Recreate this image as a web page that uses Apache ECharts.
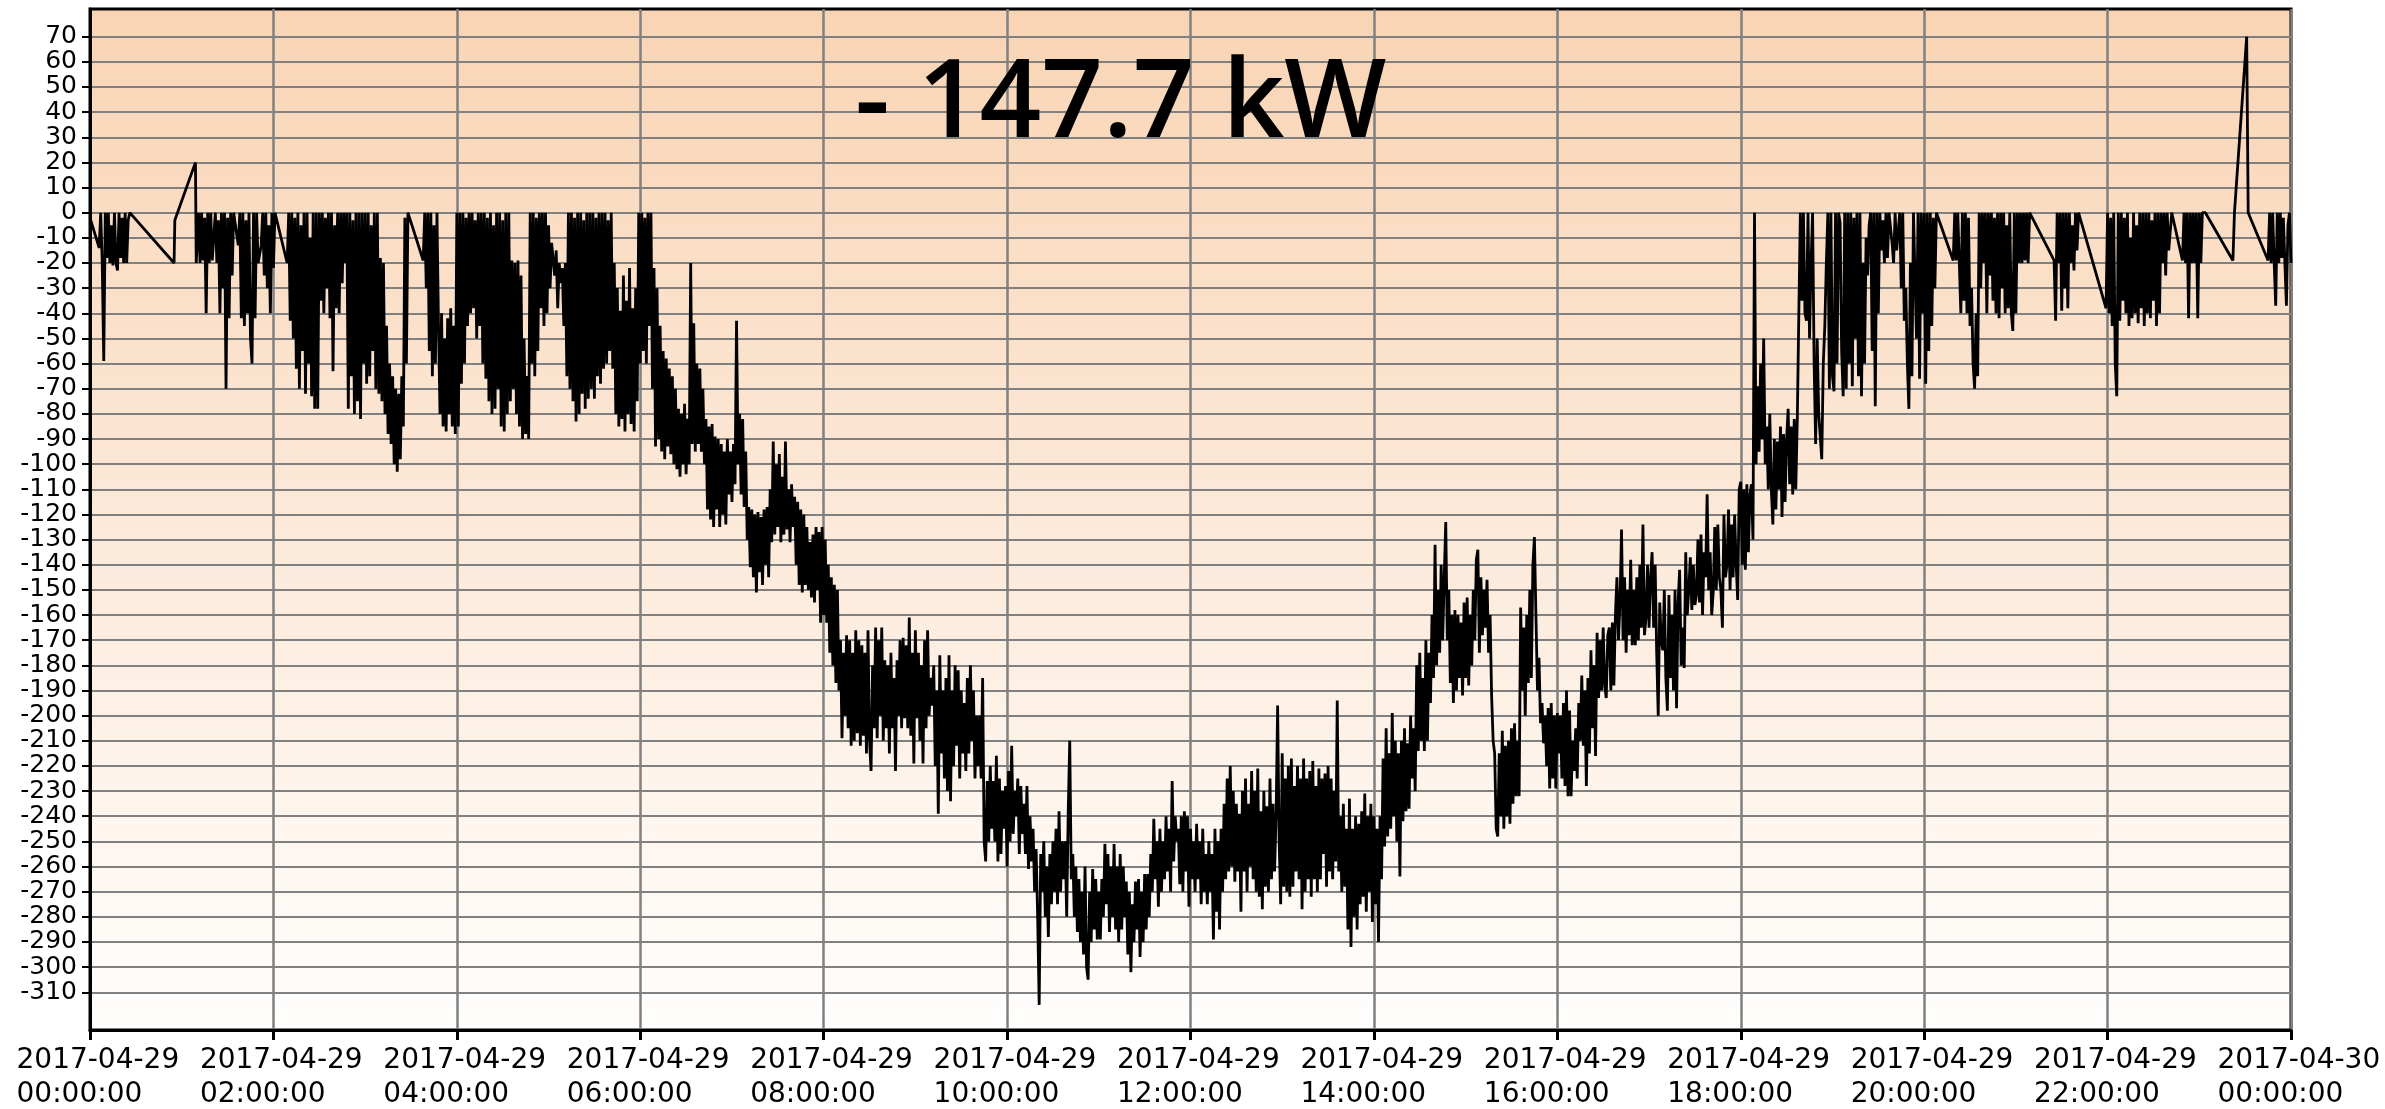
<!DOCTYPE html>
<html>
<head>
<meta charset="utf-8">
<title>kW</title>
<script src="https://cdn.jsdelivr.net/npm/echarts@6/dist/echarts.min.js"></script>
<style>
html,body{margin:0;padding:0;background:#fff;}
#chart{width:2385px;height:1109px;}
</style>
</head>
<body>
<div id="chart"></div>
<script>
// night readings as [minute of day, kW] (logger leaves gaps)
var night = [
[0,-2],[3,-8],[6,-14],[7,0],[8,-20],[9,-59],[10,0],[11,-18],[12,0],[13,-20],[14,-5],[15,-21],[16,0],[17,-20],[18,-23],[19,0],[20,-18],[21,-2],[22,-20],[23,0],[24,-20],[25,-3],[26,0],
[55,-20],[55.5,-3],[69,20],[69.5,-20],
[71,0],[72,-20],[73,0],[74,-19],[75,-2],[76,-40],[77,0],[78,-20],[79,0],[80,-19],
[82,0],[83,-20],[84,-3],[85,-40],[86,0],[87,-30],[88,0],[89,-70],[90,-2],[91,-42],[92,0],[93,-25],
[94,0],[97,-13],[98,0],[99,-42],[100,0],[101,-45],[102,-3],[103,-40],[104,0],[105,-50],[106,-60],[107,0],[108,-42],[109,0],[110,-20],[112,-13],[113,0],[114,-25],[115,0],[116,-30],[117,-5],[118,-40],[119,0],[120,-22],[121,0],
[129,-20],[130,0],
[131,-43],[132,0],[133,-50],[134,-2],[135,-62],[136,0],[137,-70],[138,-5],[139,-55],[140,0],[141,-72],[142,0],[143,-60],[144,-10],[145,-73],[146,0],[147,-78],
[148,0],[149,-78],[150,0],[151,-35],[152,0],[153,-40],[154,-2],[155,-30],[156,0],[157,-42],[158,0],[159,-63],[160,-5],[161,-38],[162,0],[163,-40],[164,0],[165,-28],[166,0],
[167,-20],[168,0],[169,-78],[170,0],[171,-65],[172,-3],[173,-80],[174,0],[175,-75],[176,0],[177,-82],
[178,0],[179,-60],[180,0],[181,-68],[182,0],[183,-65],[184,-5],[185,-55],[186,0],[187,-70],[188,0],[189,-72],[190,-18],[191,-75],[192,-20],[193,-80],
[194,-45],[195,-88],[196,-60],[197,-92],[198,-65],[199,-100],[200,-70],[201,-103],[202,-72],[203,-98],[204,-65],[205,-85],[206,-2],[207,-60],[208,0],
[218,-19],[219,0],
[220,-30],[221,0],[222,-55],[223,0],[224,-65],[225,-5],[226,-60],[227,0],[228,-45],[229,-80],[230,-40],[231,-85],[232,-50],[233,-87],[234,-42],[235,-80],[236,-38],[237,-85],[238,-45],[239,-88],
[240,0],[241,-85],[242,0],[243,-68],[244,0],[245,-60],[246,-2],[247,-45],[248,0],[249,-40],[250,0],[251,-38],[252,-3],[253,-50],[254,0],[255,-45],[256,0],[257,-60],[258,0],[259,-66],[260,-2],[261,-75],[262,0],[263,-80],[264,-5],[265,-78],[266,0],[267,-70],[268,0],[269,-85],[270,-3],[271,-87],[272,0],[273,-80],[274,0],[275,-75],
[276,-19],[277,-70],[278,-20],[279,-80],[280,-19],[281,-85],[282,-25],[283,-90],[284,-50],[285,-88],[286,-65],[287,-90],
[288,0],[289,-60],[290,0],[291,-65],[292,-2],[293,-55],[294,0],[295,-38],[296,0],[297,-45],[298,0],[299,-40],[300,-5],[301,-30],
[302,-12],[304,-25],[305,-15],[306,-38],[307,-20],[308,-28],[309,-22],[310,-45],[311,-20],[312,-65],
[313,0],[314,-70],[315,0],[316,-75],[317,-2],[318,-83],[319,0],[320,-80],[321,0],[322,-72],[323,-3],[324,-78],[325,0],[326,-74],[327,0],[328,-70],[329,0],[330,-74],[331,-2],[332,-65],[333,0],[334,-68],[335,0],[336,-62],[337,0],[338,-60],[339,-3],[340,-55],[341,0],[342,-62],
[343,-20],[344,-80],[345,-30],[346,-85],[347,-39],[348,-82],[349,-25],[350,-87],[351,-35],[352,-80],[353,-22],[354,-84],[355,-38],[356,-87],[357,-30],[358,-75],
[359,0],[360,-60],[361,0],[362,-55],[363,-2],[364,-60],[365,0],[366,-45],[367,0],[368,-70],[369,-22],[370,-93],[371,-30],[372,-90]
];

// daytime: one reading per minute from 06:13 to 18:36
var dayStart = 373;
var dayKw = [
-45,-95,-55,-98,-58,-93,-62,-96,-65,
-100,-70,-102,-78,-105,-80,-100,-76,-104,-82,
-100,-20,-92,-44,-95,-60,-92,-62,-95,-70,
-100,-82,-118,-85,-122,-84,-125,-89,-118,-90,
-125,-92,-120,-95,-124,-90,-112,-95,-115,-92,
-108,-43,-100,-80,-112,-82,-117,-95,-130,-117,
-141,-118,-145,-120,-151,-119,-143,-121,-148,-118,
-140,-117,-145,-110,-131,-91,-128,-100,-125,-96,
-131,-105,-128,-91,-126,-110,-131,-108,-125,-113,
-140,-115,-148,-118,-151,-120,-148,-125,-150,-131,
-153,-128,-155,-125,-150,-127,-163,-125,-160,-130,
-163,-140,-175,-145,-180,-148,-187,-150,-190,-170,
-209,-175,-200,-168,-205,-170,-212,-175,-210,-166,
-207,-170,-212,-172,-208,-175,-215,-166,-210,-222,
-180,-205,-165,-209,-170,-200,-165,-210,-178,-205,
-180,-215,-175,-205,-185,-222,-178,-200,-170,-205,
-169,-201,-172,-205,-161,-208,-175,-219,-166,-201,
-175,-210,-180,-219,-170,-205,-166,-200,-185,-196,
-180,-220,-190,-239,-176,-215,-190,-225,-185,-230,
-176,-234,-190,-220,-180,-212,-182,-225,-190,-215,
-195,-222,-185,-215,-180,-210,-190,-225,-200,-220,
-200,-225,-185,-250,-258,-226,-250,-220,-245,-226,
-250,-216,-258,-225,-255,-230,-245,-228,-260,-222,
-250,-212,-247,-230,-240,-225,-255,-228,-247,-235,
-255,-228,-261,-240,-258,-245,-270,-253,-280,-315,
-255,-270,-250,-280,-260,-288,-255,-275,-250,-270,
-245,-275,-238,-270,-250,-265,-250,-280,-238,-210,
-265,-255,-280,-260,-286,-265,-290,-270,-295,-260,
-300,-305,-270,-290,-261,-285,-265,-289,-270,-289,
-265,-280,-251,-275,-255,-286,-260,-280,-251,-285,
-260,-290,-255,-285,-260,-280,-266,-295,-270,-302,
-275,-290,-266,-285,-265,-296,-270,-290,-263,-285,
-263,-280,-255,-270,-241,-265,-250,-276,-245,-270,
-250,-265,-240,-262,-245,-270,-226,-258,-240,-250,
-245,-267,-240,-270,-238,-262,-240,-276,-245,-265,
-250,-270,-243,-265,-250,-275,-245,-270,-255,-275,
-250,-270,-255,-289,-245,-278,-250,-285,-245,-270,
-235,-265,-225,-262,-220,-260,-230,-266,-235,-262,
-239,-278,-230,-262,-225,-270,-235,-260,-222,-265,
-230,-270,-221,-272,-238,-277,-230,-268,-236,-270,
-225,-265,-235,-262,-240,-196,-250,-275,-215,-268,
-225,-270,-220,-272,-217,-268,-228,-262,-220,-265,
-225,-277,-217,-270,-225,-265,-222,-272,-218,-265,
-228,-270,-221,-265,-225,-255,-223,-268,-220,-262,
-225,-265,-230,-258,-194,-262,-240,-270,-235,-268,
-245,-285,-233,-292,-245,-280,-240,-285,-243,-275,
-238,-272,-231,-278,-240,-270,-235,-282,-240,-275,
-245,-290,-240,-265,-217,-252,-205,-248,-215,-245,
-199,-240,-210,-250,-215,-264,-210,-242,-205,-238,
-211,-237,-200,-225,-205,-230,-180,-214,-175,-210,
-185,-214,-170,-210,-175,-195,-160,-185,-132,-180,
-150,-175,-140,-170,-145,-123,-170,-150,-187,-160,
-195,-158,-190,-160,-185,-163,-192,-155,-185,-153,
-188,-160,-180,-150,-170,-138,-134,-175,-145,-168,
-150,-165,-146,-175,-160,-192,-210,-215,-245,-248,
-215,-240,-206,-245,-212,-240,-210,-243,-205,-235,
-203,-232,-210,-232,-157,-190,-165,-200,-160,-187,
-150,-185,-140,-129,-160,-190,-177,-203,-195,-211,
-200,-220,-197,-229,-195,-225,-200,-229,-199,-215,
-200,-225,-195,-228,-190,-232,-198,-232,-210,-222,
-205,-225,-195,-210,-184,-212,-190,-228,-185,-215,
-174,-205,-180,-216,-167,-193,-170,-190,-165,-188,
-193,-168,-165,-190,-163,-188,-160,-145,-170,-155,
-126,-170,-145,-175,-150,-168,-138,-172,-150,-172,
-145,-170,-140,-165,-124,-168,-161,-140,-165,-145,
-135,-165,-140,-175,-200,-155,-170,-174,-150,-185,
-198,-152,-185,-160,-190,-150,-197,-155,-142,-180,
-165,-181,-135,-160,-150,-137,-158,-140,-156,-152,
-130,-155,-128,-160,-135,-145,-112,-150,-135,-160,
-151,-125,-150,-124,-145,-150,-165,-120,-145,-140,
-118,-150,-124,-145,-120,-140,-154,-110,-107,-140,
-110,-142,-108,-135,-112,-108,-130,0,-100,-69,
-95,-60,-90,-50,-100,-85,-110,-80,-110,-124,
-90,-118,-91,-110,-85,-121,-88,-115,-90,-78,
-108,-85,-112,-82,-110
];

// evening readings as [minute of day, kW]
var evening = [
[1117,-82],[1118,-40],[1119,0],[1120,-35],[1121,0],[1122,-40],[1123,-43],[1124,0],[1125,-50],[1126,-20],[1127,0],[1128,-60],[1129,-92],[1130,-50],[1131,-80],[1133,-98],[1134,-60],[1135,-45],[1136,-20],[1137,0],[1138,-70],[1139,0],[1140,-65],[1141,-71],[1142,0],[1143,-60],[1144,0],[1145,-4],[1146,-55],[1147,-73],[1148,0],[1149,-70],[1150,0],[1151,-60],[1152,0],[1153,-69],[1154,-2],[1155,-50],[1156,0],[1157,-65],[1158,0],[1159,-73],[1160,-20],[1161,-60],[1162,-10],[1163,-25],[1164,-5],[1165,0],[1166,-55],[1167,0],[1168,-77],[1169,0],[1170,-40],[1171,0],[1172,-15],[1173,-3],[1174,-20],[1175,0],[1176,-18],[1177,0],[1179,-12],[1180,-20],[1181,0],[1182,-15],[1184,0],[1185,-30],[1186,0],[1187,-43],[1188,-30],[1189,-60],[1190,-78],[1191,-20],[1192,-65],[1193,0],[1194,0],[1195,-50],[1196,0],[1197,-66],[1198,0],
[1199,-40],[1200,0],[1201,-68],[1202,0],[1203,-55],[1204,0],[1205,-45],[1206,-2],[1207,-30],[1208,0],[1219,-19],[1220,0],[1221,-19],[1222,0],[1224,-40],[1225,0],[1226,-35],[1227,0],[1228,-40],[1229,-2],[1230,-45],[1231,-30],[1232,-60],[1233,-70],[1234,-40],[1235,-65],[1236,0],[1237,-30],[1238,0],[1239,-20],[1240,0],[1241,-40],[1242,0],[1243,-25],[1244,0],[1245,-35],[1246,-2],[1247,-40],[1248,0],[1249,-42],[1250,0],[1251,-30],[1252,0],[1253,-40],[1254,-5],[1255,-38],[1256,0],[1257,-40],[1258,-47],[1259,0],[1260,-40],[1261,0],[1262,-20],[1263,0],[1264,-20],[1265,0],[1266,-19],[1267,0],[1268,-20],[1269,0],
[1285,-19],[1286,-43],[1287,0],[1288,-20],[1289,0],[1290,-39],[1291,0],[1292,-30],[1293,0],[1294,-38],[1295,0],[1296,-20],[1297,-5],[1298,-23],[1299,0],[1300,-15],[1301,0],
[1319,-38],[1320,0],[1321,-40],[1322,-2],[1323,-45],[1324,0],[1325,-60],[1326,-73],[1327,0],[1328,-43],[1329,0],[1330,-35],[1331,-2],[1332,-40],[1333,0],[1334,-45],[1335,-10],[1336,-42],[1337,0],[1338,-40],[1339,-5],[1340,-44],[1341,0],[1342,-38],[1343,0],[1344,-45],[1345,0],[1346,-40],[1347,0],[1348,-42],[1349,-3],[1350,-35],[1351,0],[1352,-45],[1353,0],[1354,-40],[1355,0],[1356,-20],[1357,0],[1358,-25],[1359,0],[1360,-15],[1362,0],
[1369,-19],[1370,0],[1371,-20],[1372,0],[1373,-42],[1374,0],[1375,-20],[1376,0],[1377,-20],[1378,0],[1379,-42],[1380,0],[1381,-20],[1382,0],[1384,0],
[1402,-19],[1403,0],[1411,70],[1412,0],
[1425,-19],[1426,0],[1427,-20],[1428,0],[1429,-20],[1430,-37],[1431,0],[1432,-20],[1433,0],[1434,-18],[1435,-2],[1436,-20],[1437,-37],[1438,-5],[1439,0],[1440,-20]
];

var yTicks = [70,60,50,40,30,20,10,0,-10,-20,-30,-40,-50,-60,-70,-80,-90,-100,-110,-120,-130,-140,-150,-160,-170,-180,-190,-200,-210,-220,-230,-240,-250,-260,-270,-280,-290,-300,-310];
var xDates = ['2017-04-29','2017-04-29','2017-04-29','2017-04-29','2017-04-29','2017-04-29','2017-04-29','2017-04-29','2017-04-29','2017-04-29','2017-04-29','2017-04-29','2017-04-30'];
var xTimes = ['00:00:00','02:00:00','04:00:00','06:00:00','08:00:00','10:00:00','12:00:00','14:00:00','16:00:00','18:00:00','20:00:00','22:00:00','00:00:00'];
var headline = '- 147.7 kW';

var day = dayKw.map(function (v, i) { return [dayStart + i, v]; });

var myChart = echarts.init(document.getElementById('chart'));
var labelFont = 'DejaVu Sans';

var option = {
    backgroundColor: '#ffffff',
    animation: false,
    title: {
        text: headline,
        left: 850,
        top: 47,
        textStyle: {
            fontFamily: "'Open Sans', 'Noto Sans', sans-serif",
            fontWeight: 600,
            fontSize: 108,
            color: '#000'
        }
    },
    grid: {
        left: 90, right: 94, top: 9, bottom: 72,
        show: true,
        borderColor: '#000',
        borderWidth: 3,
        backgroundColor: new echarts.graphic.LinearGradient(0, 0, 0, 1, [
            {offset: 0, color: '#f9d4b4'},
            {offset: 1, color: '#fffefd'}
        ])
    },
    xAxis: {
        type: 'value',
        min: 0, max: 1440, interval: 120,
        axisLine: {onZero: false, lineStyle: {color: '#000', width: 3}},
        axisTick: {length: 10, lineStyle: {color: '#000', width: 3}},
        splitLine: {show: true, lineStyle: {color: '#808080', width: 2.5}},
        axisLabel: {
            margin: 14,
            padding: [0, 0, 0, 16],
            formatter: function (v) {
                var i = Math.round(v / 120);
                return '{a|' + xDates[i] + '}\n{a|' + xTimes[i] + '}';
            },
            rich: {
                a: {fontFamily: labelFont, fontSize: 28, color: '#000', width: 163, align: 'left', lineHeight: 34}
            }
        }
    },
    yAxis: {
        type: 'value',
        min: -325, max: 81,
        axisLine: {show: true, lineStyle: {color: '#000', width: 3}},
        axisTick: {show: true, customValues: yTicks, length: 8, lineStyle: {color: '#000', width: 2}},
        splitLine: {show: true, lineStyle: {color: '#808080', width: 2}},
        axisLabel: {
            customValues: yTicks,
            margin: 13,
            fontFamily: labelFont,
            fontSize: 25,
            color: '#000'
        }
    },
    series: [{
        type: 'line',
        data: night.concat(day, evening),
        showSymbol: false,
        symbol: 'none',
        sampling: null,
        lineStyle: {color: '#000', width: 2.8},
        z: 3
    }]
};
myChart.setOption(option);
</script>
</body>
</html>
